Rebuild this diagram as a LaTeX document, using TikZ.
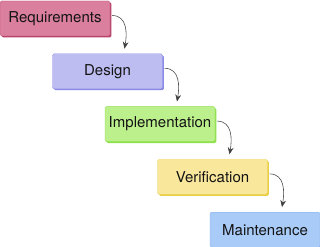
\documentclass[tikz,border=0pt]{standalone}
\usepackage{fontspec}
\setmainfont{TeX Gyre Heros}
\usepackage{xcolor}
\usetikzlibrary{arrows.meta,positioning,shadows}
\definecolor{reqfill}{HTML}{DB7F9E}
\definecolor{reqedge}{HTML}{B8426C}
\definecolor{desfill}{HTML}{BDBDF2}
\definecolor{desedge}{HTML}{8A8AE6}
\definecolor{impfill}{HTML}{BCF08C}
\definecolor{impedge}{HTML}{8EE04C}
\definecolor{verfill}{HTML}{F9E79C}
\definecolor{veredge}{HTML}{E8CF44}
\definecolor{maifill}{HTML}{A9CBF7}
\definecolor{maiedge}{HTML}{84B0EE}

\begin{document}
\begin{tikzpicture}[x=1pt, y=1pt, font=\fontsize{15}{18}\selectfont, >={Stealth[length=2.4mm, width=2mm]},
  stage/.style={rectangle, rounded corners=1.5pt, minimum width=110pt, minimum height=35pt, inner sep=2pt, align=center, text=black!92},
  tint/.style 2 args={fill=#1, draw=#2, line width=0.3pt, drop shadow={shadow xshift=1.4pt, shadow yshift=-1.4pt, fill=#2, opacity=1}},
  flow/.style={->, black!75, line width=0.55pt}]
\useasboundingbox (0,0) rectangle (320,-246);
\node[stage, tint={reqfill}{reqedge}] (req) at (55,-18.5) {Requirements};
\node[stage, tint={desfill}{desedge}, below=17.5pt of req, xshift=52.5pt] (des) {Design};
\node[stage, tint={impfill}{impedge}, below=17.5pt of des, xshift=52.5pt] (imp) {Implementation};
\node[stage, tint={verfill}{veredge}, below=17.5pt of imp, xshift=52.5pt] (ver) {Verification};
\node[stage, tint={maifill}{maiedge}, below=17.5pt of ver, xshift=52.5pt] (mai) {Maintenance};
\draw[flow] ([shift={(2pt,3pt)}]req.east) to[out=0, in=80, looseness=1.1] ([shift={(17pt,5pt)}]des.north);
\draw[flow] ([shift={(2pt,3pt)}]des.east) to[out=0, in=80, looseness=1.1] ([shift={(17pt,5pt)}]imp.north);
\draw[flow] ([shift={(2pt,3pt)}]imp.east) to[out=0, in=80, looseness=1.1] ([shift={(17pt,5pt)}]ver.north);
\draw[flow] ([shift={(2pt,3pt)}]ver.east) to[out=0, in=80, looseness=1.1] ([shift={(17pt,5pt)}]mai.north);
\end{tikzpicture}
\end{document}
